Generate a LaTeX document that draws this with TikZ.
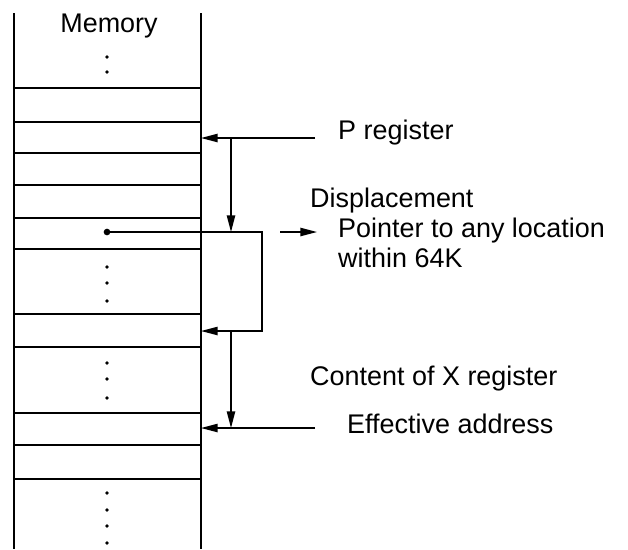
\documentclass[tikz,border=0pt]{standalone}
\usepackage{fontspec}
\setmainfont{Liberation Sans}
\usetikzlibrary{arrows.meta,positioning}

\tikzset{
  memline/.style={line width=1.6pt},
  ptr/.style={line width=1.2pt,-{Triangle[length=0.5cm,width=0.25cm]}},
  lbl/.style={anchor=base west,inner sep=0pt,font=\fontsize{23}{28}\selectfont},
  bigdot/.style={circle,fill,inner sep=0pt,minimum size=0.2cm},
}

\begin{document}
\begin{tikzpicture}[x=0.03cm,y=-0.03cm]
\useasboundingbox (0,0) rectangle (628,549);
% memory column
\draw[memline] (14,13) -- (14,549);
\draw[memline] (201,13) -- (201,549);
\foreach \y in {88,122,153,185,218,249,314,347,413,445,479}
  \draw[memline] (14,\y) -- (201,\y);
\foreach \y in {57,72,267,283,301,363,379,398,493,510,526,543}
  \fill (107,\y) circle (0.055cm);
\node[lbl,anchor=base] (mem) at (109,32) {Memory};
\node[bigdot] (loc) at (107,232) {};

% arrow ends
\coordinate (pin) at (201,138);
\coordinate (xin) at (201,331);
\coordinate (ein) at (201,428);
\coordinate (pfrom) at (315,138);
\coordinate (efrom) at (315,428);
\coordinate (dtop) at (231,138);
\coordinate (dbot) at (231,232);
\coordinate (xtop) at (231,331);
\coordinate (xbot) at (231,428);
\coordinate (bx) at (262,232);
\coordinate (by) at (262,331);
\coordinate (pa) at (280,232);
\coordinate (pb) at (317,232);

\draw[ptr] (pfrom) -- (pin);
\draw[ptr] (dtop) -- (dbot);
\draw[ptr] (loc.center) -- (bx) -- (by) -- (xin);
\draw[ptr] (xtop) -- (xbot);
\draw[ptr] (efrom) -- (ein);
\draw[ptr] (pa) -- (pb);

% labels
\node[lbl] (preg) at (338,139) {P register};
\node[lbl] (disp) at (310,207) {Displacement};
\node[lbl] (pnt) at (338,237) {Pointer to any location};
\node[lbl] (pnt2) at (338,267) {within 64K};
\node[lbl] (xreg) at (310,385) {Content of X register};
\node[lbl] (eff) at (347,433) {Effective address};
\end{tikzpicture}
\end{document}
